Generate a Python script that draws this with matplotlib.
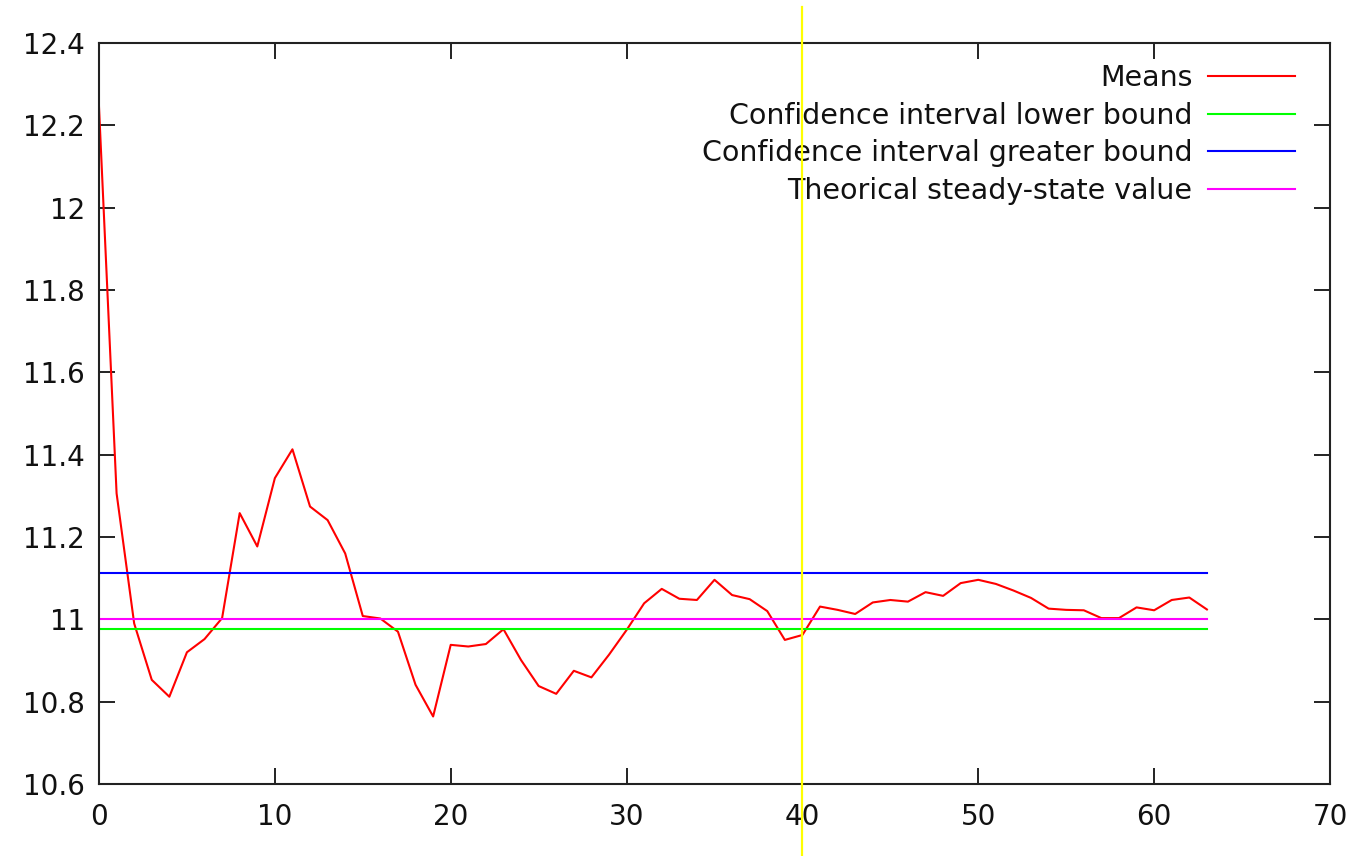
import matplotlib
matplotlib.use("Agg")
import matplotlib.pyplot as plt
from matplotlib.ticker import FormatStrFormatter

# ---- data ----
x_values = list(range(64))
means = [12.245, 11.306, 10.99, 10.853, 10.812, 10.920, 10.952, 11.003, 11.258, 11.177,
         11.343, 11.413, 11.274, 11.241, 11.160, 11.008, 11.002, 10.970, 10.841, 10.764,
         10.938, 10.934, 10.940, 10.976, 10.901, 10.838, 10.819, 10.875, 10.859, 10.914,
         10.974, 11.039, 11.074, 11.050, 11.047, 11.096, 11.059, 11.049, 11.020, 10.950,
         10.962, 11.031, 11.023, 11.013, 11.041, 11.047, 11.043, 11.066, 11.057, 11.088,
         11.096, 11.086, 11.070, 11.052, 11.026, 11.023, 11.022, 11.003, 11.003, 11.029,
         11.022, 11.047, 11.053, 11.024]
ci_lower = 10.977
ci_upper = 11.112
theoretical = 11.0
marker_x = 40

labels = ["Means", "Confidence interval lower bound",
          "Confidence interval greater bound", "Theorical steady-state value"]
x_ticks = [0, 10, 20, 30, 40, 50, 60, 70]
y_ticks = [10.6, 10.8, 11.0, 11.2, 11.4, 11.6, 11.8, 12.0, 12.2, 12.4]

plt.rcParams['font.family'] = ['DejaVu Sans']

fig = plt.figure(figsize=(13.7, 8.56), dpi=100)
ax = fig.add_axes([99 / 1370, 1 - 784 / 856, (1330 - 99) / 1370, (784 - 43) / 856])

lw = 1.5
ax.plot(x_values, means, color='#ff0000', lw=lw, label=labels[0])
ax.plot(x_values, [ci_lower] * len(x_values), color='#00ff00', lw=lw, label=labels[1])
ax.plot(x_values, [ci_upper] * len(x_values), color='#0000ff', lw=lw, label=labels[2])
ax.plot(x_values, [theoretical] * len(x_values), color='#ff00ff', lw=lw, label=labels[3])

ax.axvline(marker_x, ymin=(784 - 856) / 741, ymax=(784 - 7) / 741, color='#ffff00',
           lw=1.6, clip_on=False, zorder=10)

ax.set_xlim(0, 70)
ax.set_ylim(10.6, 12.4)
ax.set_xticks(x_ticks)
ax.set_yticks(y_ticks)
ax.yaxis.set_major_formatter(FormatStrFormatter('%g'))

ax.tick_params(axis='both', which='major', direction='in', length=11.5, width=1.4,
               labelsize=20, top=True, right=True, color='#222222', labelcolor='#111111')
ax.tick_params(axis='y', pad=10)
ax.tick_params(axis='x', pad=14)
for s in ax.spines.values():
    s.set_linewidth(1.5)
    s.set_color('#222222')

leg = ax.legend(loc='upper right', bbox_to_anchor=(0.9716, 0.972), markerfirst=False,
                frameon=False, fontsize=20.5, handlelength=3.05, handletextpad=0.56,
                labelspacing=0.345, borderaxespad=0, borderpad=0)
for t in leg.get_texts():
    t.set_color('#111111')

fig.savefig("out.png", dpi=100, facecolor='white')
